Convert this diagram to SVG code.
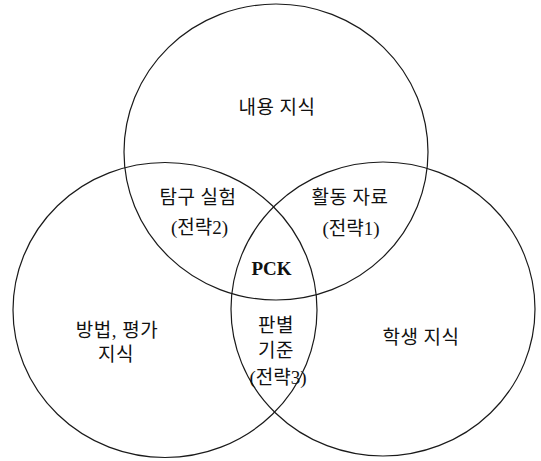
<svg xmlns="http://www.w3.org/2000/svg" width="541" height="461" viewBox="0 0 541 461">
<style>
.c{fill:none;stroke:#1a1a1a;stroke-width:1.2}
.t{font-family:"Liberation Serif","Noto Sans CJK KR",serif;font-size:19px;fill:#111;text-anchor:middle;dominant-baseline:central;letter-spacing:0.5px}
.p{font-family:"Liberation Serif","Noto Sans CJK KR",serif;font-size:19px;fill:#111;text-anchor:middle;dominant-baseline:central}
.b{font-family:"Liberation Serif",serif;font-size:19px;font-weight:bold;fill:#111;text-anchor:middle;dominant-baseline:central}
</style>
<rect width="541" height="461" fill="#fff"/>
<g id="content-knowledge">
<ellipse class="c" cx="276" cy="152" rx="152" ry="148"/>
<text class="t" x="277" y="107.5">내용 지식</text>
</g>
<g id="method-knowledge">
<ellipse class="c" cx="165" cy="310" rx="152" ry="147.5"/>
<text class="t" x="117" y="330">방법, 평가</text>
<text class="t" x="116" y="354">지식</text>
</g>
<g id="student-knowledge">
<ellipse class="c" cx="383" cy="309" rx="152" ry="147"/>
<text class="t" x="421" y="337">학생 지식</text>
</g>
<g id="inquiry">
<text class="t" x="198" y="197">탐구 실험</text>
<text class="p" x="199.5" y="227.5">(전략2)</text>
</g>
<g id="activity">
<text class="t" x="350" y="197.5">활동 자료</text>
<text class="p" x="351" y="228">(전략1)</text>
</g>
<g id="pck">
<text class="b" x="271.5" y="268.5">PCK</text>
</g>
<g id="criteria">
<text class="t" x="276" y="325">판별</text>
<text class="t" x="276" y="350">기준</text>
<text class="p" x="278" y="377">(전략3)</text>
</g>
<g id="connectors"></g>
</svg>
